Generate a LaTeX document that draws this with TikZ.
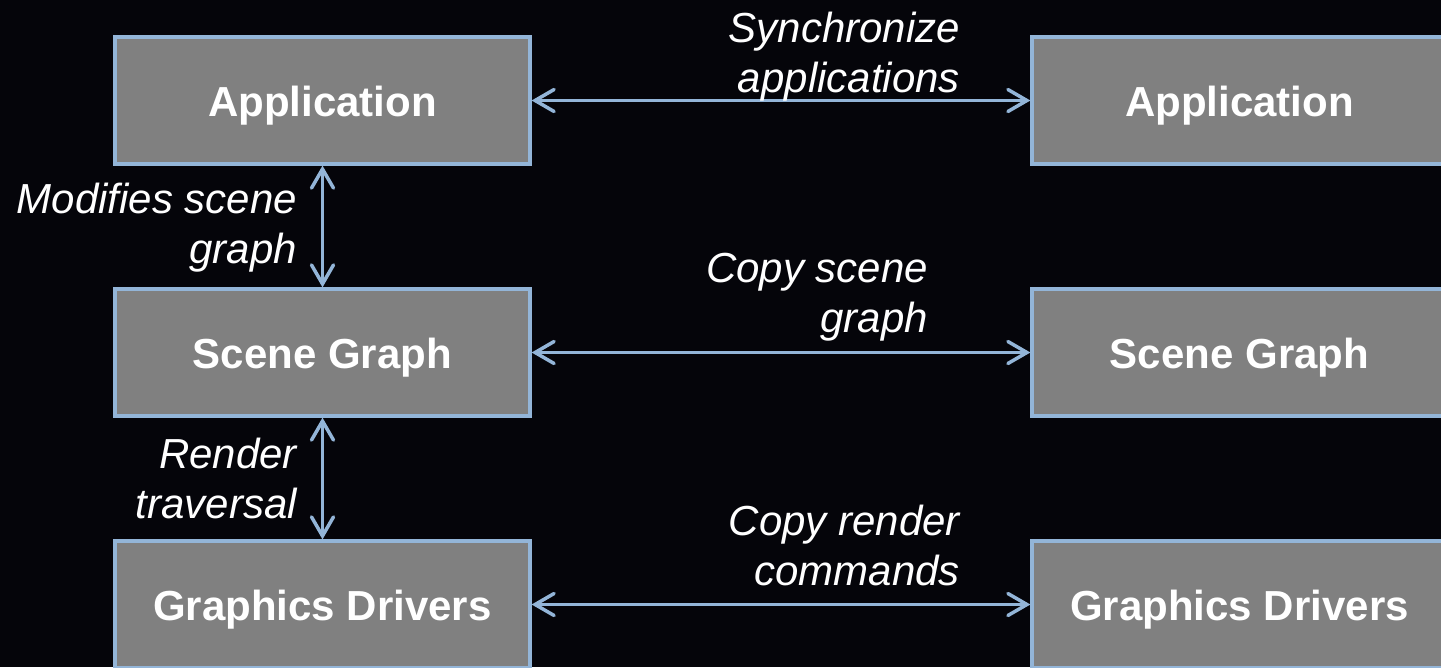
\documentclass[tikz,border=0pt]{standalone}
\usepackage{fontspec}
\setmainfont{Liberation Sans}
\usetikzlibrary{arrows.meta}
\definecolor{bgdark}{HTML}{05050A}
\definecolor{boxgray}{HTML}{808080}
\definecolor{edgeblue}{HTML}{93B5D8}
\begin{document}
\begin{tikzpicture}[x=1pt,y=-1pt,
  layer/.style={draw=edgeblue, fill=boxgray, line width=3.2pt,
    minimum width=415pt, minimum height=127pt, inner sep=0pt,
    text height=32pt, text depth=0pt,
    text=white, font=\fontsize{42}{50}\selectfont\bfseries},
  link/.style={draw=edgeblue, line width=3.5pt, line cap=round,
    {Straight Barb[length=19pt,width=22pt,line cap=round]}-{Straight Barb[length=19pt,width=22pt,line cap=round]}},
  note/.style={text=white, align=right, inner sep=0pt,
    font=\fontsize{42}{50}\selectfont\itshape}]
  \fill[bgdark] (0,0) rectangle (1441,667);
  \useasboundingbox (0,0) rectangle (1441,667);
  \clip (0,0) rectangle (1441,667);

  % left stack
  \node[layer] (a1) at (322.5,100.5) {Application};
  \node[layer] (s1) at (322.5,352.5) {Scene Graph};
  \node[layer] (g1) at (322.5,604.5) {Graphics Drivers};
  % right stack
  \node[layer] (a2) at (1239.5,100.5) {Application};
  \node[layer] (s2) at (1239.5,352.5) {Scene Graph};
  \node[layer] (g2) at (1239.5,604.5) {Graphics Drivers};

  % connectors
  \draw[link] (a1.east) -- (a2.west);
  \draw[link] (s1.east) -- (s2.west);
  \draw[link] (g1.east) -- (g2.west);
  \draw[link] (a1.south) -- (s1.north);
  \draw[link] (s1.south) -- (g1.north);

  % labels
  \node[note, anchor=east] (l1) at (960,57) {Synchronize\\applications};
  \node[note, anchor=east] (l2) at (928,297) {Copy scene\\graph};
  \node[note, anchor=east] (l3) at (960,545) {Copy render\\commands};
  \node[note, anchor=east] (l4) at (297,228) {Modifies scene\\graph};
  \node[note, anchor=east] (l5) at (297,478) {Render\\traversal};
\end{tikzpicture}
\end{document}
